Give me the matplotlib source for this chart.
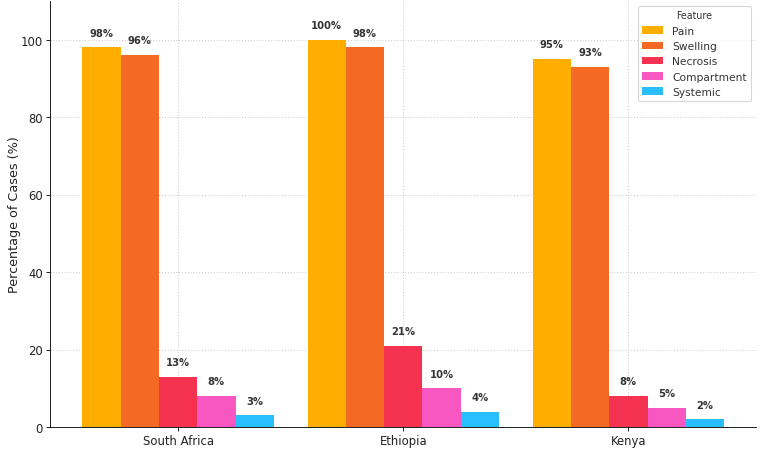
import numpy as np
import matplotlib.pyplot as plt

countries = ['South Africa', 'Ethiopia', 'Kenya']
features = ['Pain', 'Swelling', 'Necrosis', 'Compartment', 'Systemic']
pain = [98, 100, 95]
swelling = [96, 98, 93]
necrosis = [13, 21, 8]
compartment = [8, 10, 5]
systemic = [3, 4, 2]
colors = ['#FFAE00', '#F46A25', '#F5324F', '#F857C1', '#29BFFF']

series = [pain, swelling, necrosis, compartment, systemic]

fig, ax = plt.subplots(figsize=(10, 5.91), dpi=76.3)
x = np.arange(len(countries))
w = 0.17

for i, (vals, name) in enumerate(zip(series, features)):
    pos = x + (i - 2) * w
    ax.bar(pos, vals, w, color=colors[i], label=name, zorder=2)
    for p, v in zip(pos, vals):
        ax.text(p, v + 2.5, f'{v}%', ha='center', va='bottom', fontsize=9.5,
                fontweight='bold', color='#333333', zorder=4)

ax.set_xticks(x)
ax.set_xticklabels(countries, fontsize=11, color='#222222')
ax.tick_params(axis='y', labelsize=11, labelcolor='#222222')
ax.set_ylabel('Percentage of Cases (%)', fontsize=12, color='#222222', labelpad=0)
ax.set_ylim(0, 110)
ax.grid(True, linestyle=(0, (1, 2)), color='#c8c8c8', linewidth=0.9, zorder=3)
for s in ['top', 'right']:
    ax.spines[s].set_visible(False)
leg = ax.legend(title='Feature', fontsize=10, title_fontsize=9, loc='upper right')
plt.setp(leg.get_texts(), color='#333333')
leg.get_title().set_color('#333333')

plt.subplots_adjust(left=0.066, right=0.991, top=0.996, bottom=0.051)
plt.savefig('out.png', dpi=76.3)
